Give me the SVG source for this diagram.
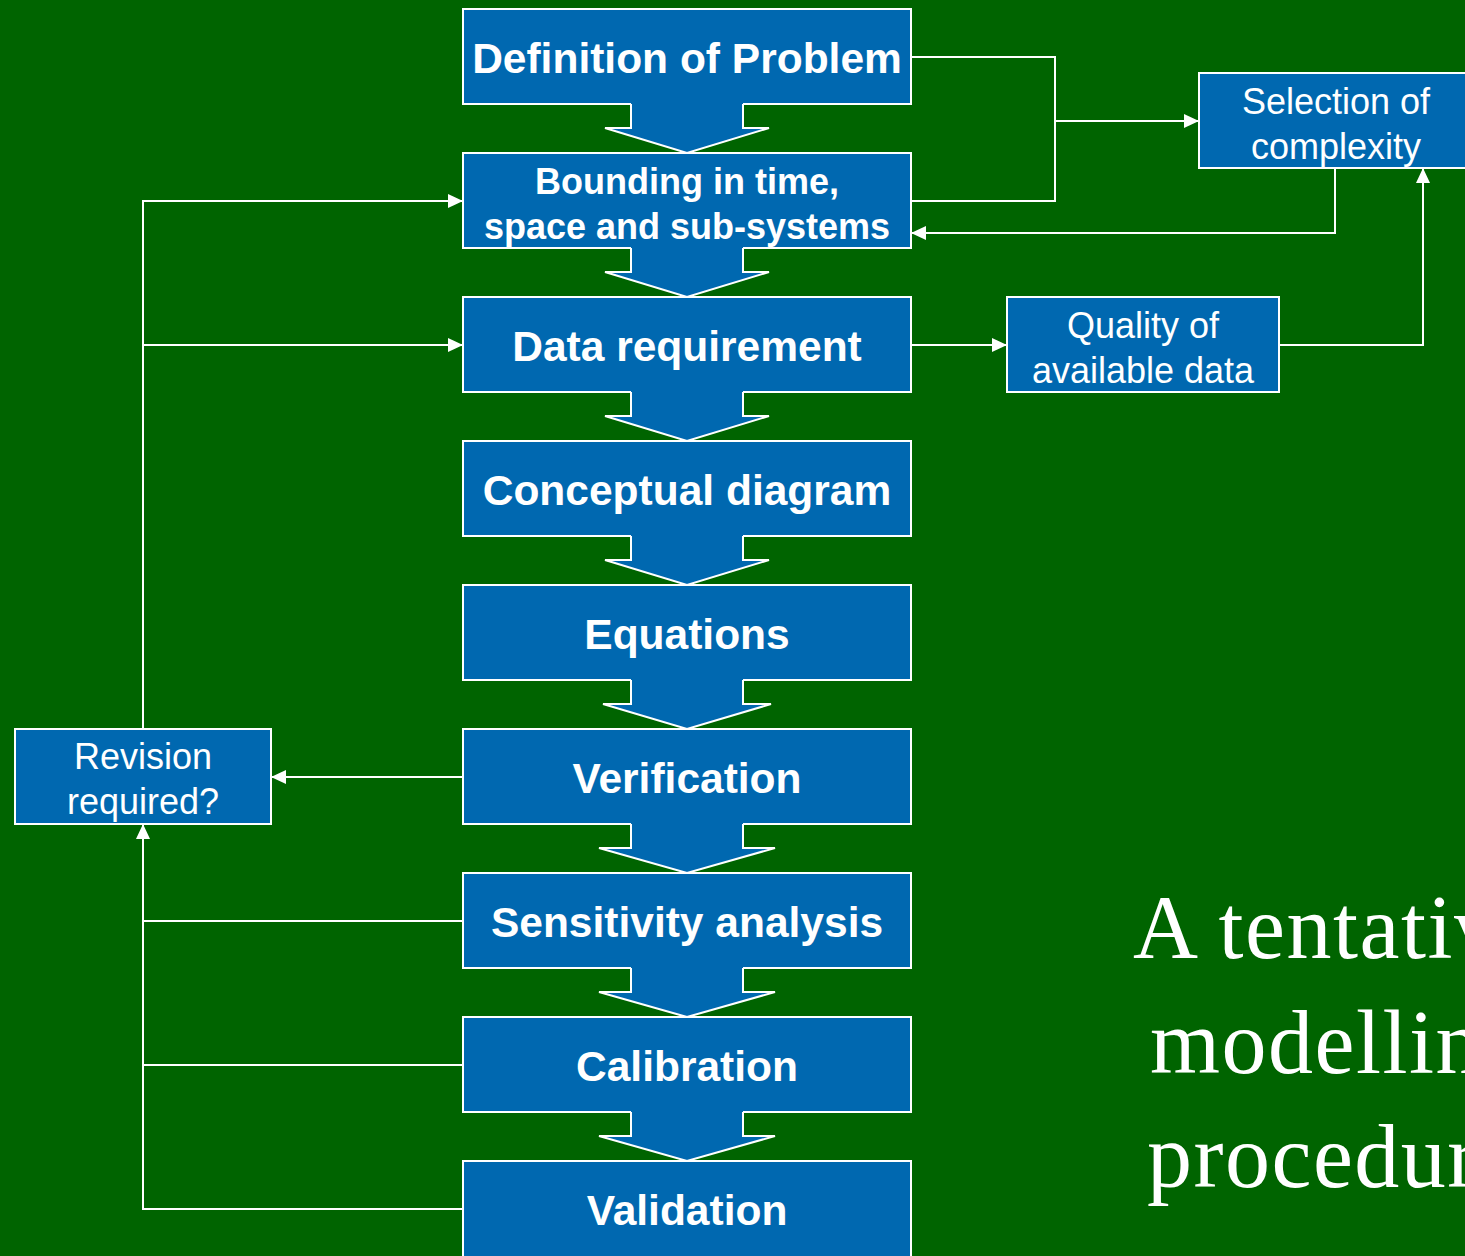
<svg xmlns="http://www.w3.org/2000/svg" width="1465" height="1256" viewBox="0 0 1465 1256">
<style>
.box{fill:#0068B0;stroke:#fff;stroke-width:2}
.af{fill:#0068B0;stroke:none}
.ao{fill:none;stroke:#fff;stroke-width:2}
.c{fill:none;stroke:#fff;stroke-width:2}
.tb{font-family:"Liberation Sans",Arial,sans-serif;font-weight:bold;fill:#fff;text-anchor:middle}
.tr{font-family:"Liberation Sans",Arial,sans-serif;fill:#fff;text-anchor:middle;font-size:36px}
.big{font-family:"Liberation Serif","Times New Roman",serif;fill:#fff;font-size:90px;letter-spacing:1.5px}
</style>
<defs>
<marker id="ah" markerUnits="userSpaceOnUse" markerWidth="15" markerHeight="14" refX="15" refY="7" orient="auto">
<path d="M0,0 L15,7 L0,14 z" fill="#fff"/>
</marker>
</defs>
<rect width="1465" height="1256" fill="#006400"/>
<g id="n1"><rect class="box" x="463" y="9" width="448" height="95"/><text class="tb" x="687" y="73" font-size="42.5">Definition of Problem</text></g>
<g id="n2"><rect class="box" x="463" y="153" width="448" height="95"/><text class="tb" x="687" y="194" font-size="36">Bounding in time,</text><text class="tb" x="687" y="239" font-size="36">space and sub-systems</text></g>
<g id="n3"><rect class="box" x="463" y="297" width="448" height="95"/><text class="tb" x="687" y="361" font-size="42.5">Data requirement</text></g>
<g id="n4"><rect class="box" x="463" y="441" width="448" height="95"/><text class="tb" x="687" y="505" font-size="42.5">Conceptual diagram</text></g>
<g id="n5"><rect class="box" x="463" y="585" width="448" height="95"/><text class="tb" x="687" y="649" font-size="42.5">Equations</text></g>
<g id="n6"><rect class="box" x="463" y="729" width="448" height="95"/><text class="tb" x="687" y="793" font-size="42.5">Verification</text></g>
<g id="n7"><rect class="box" x="463" y="873" width="448" height="95"/><text class="tb" x="687" y="937" font-size="42.5">Sensitivity analysis</text></g>
<g id="n8"><rect class="box" x="463" y="1017" width="448" height="95"/><text class="tb" x="687" y="1081" font-size="42.5">Calibration</text></g>
<g id="n9"><rect class="box" x="463" y="1161" width="448" height="110"/><text class="tb" x="687" y="1225" font-size="42.5">Validation</text></g>
<g id="sel"><rect class="box" x="1199" y="73" width="280" height="95"/><text class="tr" x="1336" y="114">Selection of</text><text class="tr" x="1336" y="159">complexity</text></g>
<g id="qual"><rect class="box" x="1007" y="297" width="272" height="95"/><text class="tr" x="1143" y="338">Quality of</text><text class="tr" x="1143" y="383">available data</text></g>
<g id="rev"><rect class="box" x="15" y="729" width="256" height="95"/><text class="tr" x="143" y="769">Revision</text><text class="tr" x="143" y="814">required?</text></g>
<g id="blockarrows">
<polygon class="af" points="631,102.5 631,128 605,128 687,153 769,128 743,128 743,102.5"/><polyline class="ao" points="631,104 631,128 605,128 687,153 769,128 743,128 743,104"/>
<polygon class="af" points="631,246.5 631,272 605,272 687,297 769,272 743,272 743,246.5"/><polyline class="ao" points="631,248 631,272 605,272 687,297 769,272 743,272 743,248"/>
<polygon class="af" points="631,390.5 631,416 605,416 687,441 769,416 743,416 743,390.5"/><polyline class="ao" points="631,392 631,416 605,416 687,441 769,416 743,416 743,392"/>
<polygon class="af" points="631,534.5 631,560 605,560 687,585 769,560 743,560 743,534.5"/><polyline class="ao" points="631,536 631,560 605,560 687,585 769,560 743,560 743,536"/>
<polygon class="af" points="631,678.5 631,704 603,704 687,729 771,704 743,704 743,678.5"/><polyline class="ao" points="631,680 631,704 603,704 687,729 771,704 743,704 743,680"/>
<polygon class="af" points="631,822.5 631,848 599,848 687,873 775,848 743,848 743,822.5"/><polyline class="ao" points="631,824 631,848 599,848 687,873 775,848 743,848 743,824"/>
<polygon class="af" points="631,966.5 631,992 599,992 687,1017 775,992 743,992 743,966.5"/><polyline class="ao" points="631,968 631,992 599,992 687,1017 775,992 743,992 743,968"/>
<polygon class="af" points="631,1110.5 631,1136 599,1136 687,1161 775,1136 743,1136 743,1110.5"/><polyline class="ao" points="631,1112 631,1136 599,1136 687,1161 775,1136 743,1136 743,1112"/>
</g>
<g id="connectors">
<polyline class="c" points="911,57 1055,57 1055,201 911,201"/>
<line class="c" x1="1055" y1="121" x2="1199" y2="121" marker-end="url(#ah)"/>
<polyline class="c" points="1335,168 1335,233 911,233" marker-end="url(#ah)"/>
<line class="c" x1="911" y1="345" x2="1007" y2="345" marker-end="url(#ah)"/>
<polyline class="c" points="1279,345 1423,345 1423,168" marker-end="url(#ah)"/>
<line class="c" x1="463" y1="777" x2="271" y2="777" marker-end="url(#ah)"/>
<line class="c" x1="463" y1="921" x2="143" y2="921"/>
<line class="c" x1="463" y1="1065" x2="143" y2="1065"/>
<polyline class="c" points="463,1209 143,1209 143,824" marker-end="url(#ah)"/>
<polyline class="c" points="143,729 143,201 463,201" marker-end="url(#ah)"/>
<line class="c" x1="143" y1="345" x2="463" y2="345" marker-end="url(#ah)"/>
</g>
<g id="title">
<text class="big" x="1133" y="958">A tentative</text>
<text class="big" x="1150" y="1073">modelling</text>
<text class="big" x="1147" y="1187">procedure</text>
</g>
</svg>
